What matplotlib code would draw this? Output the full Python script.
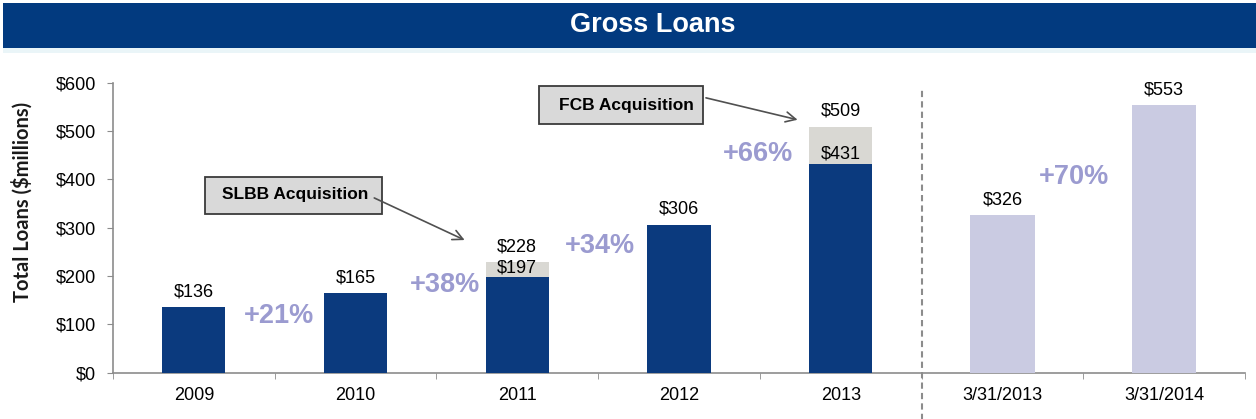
import numpy as np
import matplotlib
matplotlib.use("Agg")
from matplotlib import pyplot as plt
from matplotlib.patches import Rectangle

# data
categories = ['2009', '2010', '2011', '2012', '2013', '3/31/2013', '3/31/2014']
organic = [136, 165, 197, 306, 431]
totals = [136, 165, 228, 306, 509]
quarter = [326, 553]
growth = ['+21%', '+38%', '+34%', '+66%', '+70%']

# colores
navy = '#0B3A7E'
gris = '#D9D8D3'
lila = '#CACBE2'
pct_color = '#9B9BD0'
axis_color = '#8C8C8C'

plt.rcParams['font.family'] = ['Liberation Sans', 'DejaVu Sans']

fig = plt.figure(figsize=(12.56, 4.19), dpi=100)

# banner del titulo
banner = Rectangle((3 / 1256, 1 - 48 / 419), 1, 45 / 419, transform=fig.transFigure,
                   facecolor='#023A7F', edgecolor='none', zorder=0)
fig.patches.append(banner)
strip = Rectangle((3 / 1256, 1 - 53 / 419), 1, 5 / 419, transform=fig.transFigure,
                  facecolor='#EAF5F8', edgecolor='none', zorder=0)
fig.patches.append(strip)
fig.text(0.52, 1 - 25 / 419, 'Gross Loans', color='white', fontsize=19.5,
         fontweight='bold', ha='center', va='center')

ax = fig.add_axes([113 / 1256, 1 - 372.7 / 419, 1132 / 1256, 290 / 419])

x_years = np.arange(len(organic))
x_q = np.arange(len(organic), len(categories))
w = 0.39

acq = np.array(totals) - np.array(organic)
ax.bar(x_years, organic, width=w, color=navy, zorder=3)
ax.bar(x_years, acq, width=w, bottom=organic, color=gris, zorder=3)
ax.bar(x_q, quarter, width=w + 0.01, color=lila, zorder=3)

# etiquetas de valores
for xi, tot, org in zip(x_years, totals, organic):
    ax.annotate(f'${tot}', (xi, tot), xytext=(0, 5), textcoords='offset points',
                ha='center', va='bottom', fontsize=13)
    if tot != org:
        ax.annotate(f'${org}', (xi, org), xytext=(0, 1), textcoords='offset points',
                    ha='center', va='bottom', fontsize=13)
for xi, v in zip(x_q, quarter):
    ax.annotate(f'${v}', (xi, v), xytext=(0, 5), textcoords='offset points',
                ha='center', va='bottom', fontsize=13)

# porcentajes de crecimiento
pct_pos = [(0.525, 117), (1.55, 182), (2.51, 262), (3.49, 452), (5.44, 405)]
for txt, (px, py) in zip(growth, pct_pos):
    ax.text(px, py, txt, color=pct_color, fontsize=19.5, fontweight='bold',
            ha='center', va='center')

# cajas de adquisiciones
for (x0, x1, y0, y1), tx, ty, label, a_from, a_to in [
        ((0.071, 1.165, 328, 405), 0.177, 368, 'SLBB Acquisition', (1.10, 364), (1.69, 272)),
        ((2.134, 3.146, 515, 593), 2.258, 553, 'FCB Acquisition', (3.15, 570), (3.75, 522))]:
    ax.add_patch(Rectangle((x0, y0), x1 - x0, y1 - y0, facecolor='#D9D9D9',
                           edgecolor='#3A3A3A', linewidth=1.3, zorder=4, clip_on=False))
    ax.text(tx, ty, label, fontsize=12.5, fontweight='bold', ha='left', va='center', zorder=5)
    ax.annotate('', xy=a_to, xytext=a_from,
                arrowprops=dict(arrowstyle='->', color='#505050', lw=1.2,
                                mutation_scale=18), zorder=5)

# linea divisoria
ax.axvline(4.5, ymin=-0.17, ymax=0.98, color='#8C8C8C', linestyle=(0, (3, 2)),
           linewidth=1.5, clip_on=False)

ax.set_xlim(-0.5, len(categories) - 0.5)
ax.set_ylim(0, 600)
ax.set_xticks(np.arange(len(categories)))
ax.set_xticklabels(categories, fontsize=13)
ax.set_xticks(np.arange(len(categories) + 1) - 0.5, minor=True)
ax.tick_params(axis='x', which='major', length=0, pad=10)
ax.tick_params(axis='x', which='minor', length=4, color=axis_color)
ax.set_yticks(np.arange(0, 601, 100))
ax.set_yticklabels([f'${v}' for v in range(0, 601, 100)], fontsize=13)
ax.tick_params(axis='y', length=4, color=axis_color, pad=8)

for s in ['top', 'right']:
    ax.spines[s].set_visible(False)
for s in ['left', 'bottom']:
    ax.spines[s].set_color(axis_color)
    ax.spines[s].set_linewidth(1.2)

fig.text(22 / 1256, 1 - 202 / 419, 'Total Loans ($millions)', rotation=90,
         fontsize=14.5, fontweight='bold', family=['Lato', 'DejaVu Sans'],
         color='#1A1A1A', ha='center', va='center')

fig.savefig('out.png', dpi=100)
